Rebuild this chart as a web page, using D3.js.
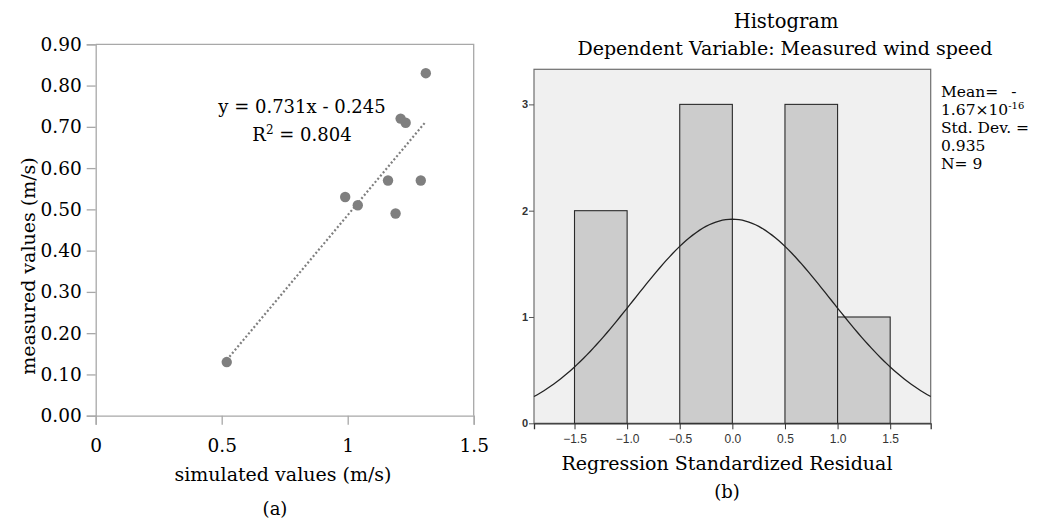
<!DOCTYPE html>
<html>
<head>
<meta charset="utf-8">
<script src="https://cdn.jsdelivr.net/npm/d3@7/dist/d3.min.js"></script>
<style>
	html, body { margin:0; padding:0; background:#fff; }
	svg { display:block; }
	.serif { font-family:"DejaVu Serif", "Liberation Serif", serif; fill:#000; }
	.sans { font-family:"Liberation Sans", "DejaVu Sans", sans-serif; fill:#333; }
</style>
</head>
<body>
<div id="chart"></div>
<script>
// (a) scatter: simulated vs measured wind speed
var simulated = [0.52, 0.99, 1.04, 1.16, 1.19, 1.21, 1.23, 1.29, 1.31];
var measured  = [0.13, 0.53, 0.51, 0.57, 0.49, 0.72, 0.71, 0.57, 0.83];
var xTicksA = [0, 0.5, 1, 1.5];
var yTicksA = [0, 0.1, 0.2, 0.3, 0.4, 0.5, 0.6, 0.7, 0.8, 0.9];
var fitSlope = 0.731, fitIntercept = -0.245, fitR2 = 0.804;

// (b) histogram of standardized residuals
var binEdges = [-1.5, -1.0, -0.5, 0.0, 0.5, 1.0, 1.5];
var binCounts = [2, 0, 3, 0, 3, 1];
var xTicksB = [-1.5, -1.0, -0.5, 0.0, 0.5, 1.0, 1.5];
var yTicksB = [0, 1, 2, 3];
var resMean = 0, resSd = 0.935, resN = 9;

(function (){
	var svg = d3.select("#chart").append("svg")
				.attr("width",1043)
				.attr("height",521);

	// ---------- panel (a) ----------
	var xa = d3.scaleLinear().domain([0,1.5]).range([95.7,473.7]);
	var ya = d3.scaleLinear().domain([0,0.9]).range([415.7,44.3]);
	var axisCol = "#a8a8a8";

	var ga = svg.append("g");

	// frame top/right
	ga.append("path")
	  .attr("d","M"+xa(0)+","+ya(0.9)+"H"+xa(1.5)+"V"+ya(0))
	  .attr("fill","none")
	  .attr("stroke",axisCol)
	  .attr("stroke-width",1.3);

	var yAxisA = d3.axisLeft(ya).tickValues(yTicksA).tickSize(9).tickFormat(d3.format(".2f"));
	ga.append("g")
	  .attr("transform","translate("+xa(0)+",0)")
	  .call(yAxisA)
	  .call(function(g){
	  		g.selectAll("path,line").attr("stroke",axisCol).attr("stroke-width",1.3);
	  		g.selectAll("text").attr("class","serif").attr("font-size",18.5).attr("x",-14).attr("fill","#000");
	  });

	var xAxisA = d3.axisBottom(xa).tickValues(xTicksA).tickSize(9).tickFormat(d3.format(""));
	ga.append("g")
	  .attr("transform","translate(0,"+ya(0)+")")
	  .call(xAxisA)
	  .call(function(g){
	  		g.selectAll("path,line").attr("stroke",axisCol).attr("stroke-width",1.3);
	  		g.selectAll("text").attr("class","serif").attr("font-size",18.5).attr("y",23).attr("fill","#000");
	  });
	svg.selectAll("g").attr("font-family",null);

	// trendline over the range of the data
	var xMin = d3.min(simulated), xMax = d3.max(simulated);
	ga.append("line")
	  .attr("x1",xa(xMin))
	  .attr("y1",ya(fitSlope*xMin+fitIntercept))
	  .attr("x2",xa(xMax))
	  .attr("y2",ya(fitSlope*xMax+fitIntercept))
	  .attr("stroke","#7f7f7f")
	  .attr("stroke-width",2.2)
	  .attr("stroke-dasharray","2,2.2");

	ga.selectAll("circle.pt")
	  .data(d3.range(simulated.length))
	  .enter()
	  .append("circle")
	  .attr("class","pt")
	  .attr("cx",function(i){return xa(simulated[i]);})
	  .attr("cy",function(i){return ya(measured[i]);})
	  .attr("r",5.2)
	  .attr("fill","#7f7f7f");

	ga.append("text")
	  .attr("class","serif")
	  .attr("x",302).attr("y",113)
	  .attr("text-anchor","middle")
	  .attr("font-size",18)
	  .text("y = "+fitSlope+"x - "+Math.abs(fitIntercept));

	var r2 = ga.append("text")
	  .attr("class","serif")
	  .attr("x",302).attr("y",141)
	  .attr("text-anchor","middle")
	  .attr("font-size",18);
	r2.append("tspan").text("R");
	r2.append("tspan").attr("font-size",12).attr("dy",-7).text("2");
	r2.append("tspan").attr("dy",7).text(" = "+fitR2);

	ga.append("text")
	  .attr("class","serif")
	  .attr("transform","translate(35,266) rotate(-90)")
	  .attr("text-anchor","middle")
	  .attr("font-size",19)
	  .text("measured values (m/s)");

	ga.append("text")
	  .attr("class","serif")
	  .attr("x",283).attr("y",481)
	  .attr("text-anchor","middle")
	  .attr("font-size",19)
	  .text("simulated values (m/s)");

	ga.append("text")
	  .attr("class","serif")
	  .attr("x",275).attr("y",515)
	  .attr("text-anchor","middle")
	  .attr("font-size",18)
	  .text("(a)");

	// ---------- panel (b) ----------
	var xb = d3.scaleLinear().domain([-1.885,1.885]).range([534,930.7]);
	var yb = d3.scaleLinear().domain([0,3.33]).range([423.3,69.3]);
	var gb = svg.append("g");

	gb.append("rect")
	  .attr("x",xb(-1.885)).attr("y",yb(3.33))
	  .attr("width",xb(1.885)-xb(-1.885))
	  .attr("height",yb(0)-yb(3.33))
	  .attr("fill","#f0f0f0")
	  .attr("stroke","#6e6e6e")
	  .attr("stroke-width",1.2);

	gb.selectAll("rect.bar")
	  .data(d3.range(binCounts.length).filter(function(i){return binCounts[i]>0;}))
	  .enter()
	  .append("rect")
	  .attr("class","bar")
	  .attr("x",function(i){return xb(binEdges[i]);})
	  .attr("y",function(i){return yb(binCounts[i]);})
	  .attr("width",function(i){return xb(binEdges[i+1])-xb(binEdges[i]);})
	  .attr("height",function(i){return yb(0)-yb(binCounts[i]);})
	  .attr("fill","#cccccc")
	  .attr("stroke","#2a2a2a")
	  .attr("stroke-width",1.1);

	// normal curve scaled to counts (N * bin width * density)
	var binW = binEdges[1]-binEdges[0];
	var normal = function(x){
		return resN*binW*Math.exp(-0.5*Math.pow((x-resMean)/resSd,2))/(resSd*Math.sqrt(2*Math.PI));
	};
	var curveX = d3.scaleLinear().domain([0,120]).range(xb.domain());
	gb.append("path")
	  .datum(d3.range(121).map(function(k){ return curveX(k); }))
	  .attr("d",d3.line().x(function(x){return xb(x);}).y(function(x){return yb(normal(x));}))
	  .attr("fill","none")
	  .attr("stroke","#222")
	  .attr("stroke-width",1.3);

	var yAxisB = d3.axisLeft(yb).tickValues(yTicksB).tickSize(5).tickFormat(d3.format("d"));
	gb.append("g")
	  .attr("transform","translate("+xb(-1.885)+",0)")
	  .call(yAxisB)
	  .call(function(g){
	  		g.select(".domain").remove();
	  		g.selectAll("line").attr("stroke","#555");
	  		g.selectAll("text").attr("class","sans").attr("font-size",11).attr("font-weight","bold").attr("fill","#555").attr("x",-6);
	  });

	var xAxisB = d3.axisBottom(xb).tickValues(xTicksB).tickSize(6).tickFormat(d3.format(".1f"));
	gb.append("g")
	  .attr("transform","translate(0,"+yb(0)+")")
	  .call(xAxisB)
	  .call(function(g){
	  		g.select(".domain").attr("stroke","#333").attr("stroke-width",1.3);
	  		g.selectAll("line").attr("stroke","#333");
	  		g.selectAll("text").attr("class","sans").attr("font-size",12).attr("fill","#444").attr("y",11);
	  });
	svg.selectAll("g").attr("font-family",null);

	gb.append("text")
	  .attr("class","serif")
	  .attr("x",786).attr("y",28)
	  .attr("text-anchor","middle")
	  .attr("font-size",19.5)
	  .text("Histogram");

	gb.append("text")
	  .attr("class","serif")
	  .attr("x",785).attr("y",55)
	  .attr("text-anchor","middle")
	  .attr("font-size",19)
	  .text("Dependent Variable: Measured wind speed");

	gb.append("text")
	  .attr("class","serif")
	  .attr("x",727).attr("y",470)
	  .attr("text-anchor","middle")
	  .attr("font-size",19)
	  .text("Regression Standardized Residual");

	gb.append("text")
	  .attr("class","serif")
	  .attr("x",727).attr("y",498)
	  .attr("text-anchor","middle")
	  .attr("font-size",18)
	  .text("(b)");

	// stats box text
	var statLines = ["Mean=", "1.67\u00d710", "Std. Dev. =", d3.format(".3f")(resSd), "N= "+resN];
	var st = gb.append("g");
	statLines.forEach(function(s,i){
		var t = st.append("text")
				  .attr("class","serif")
				  .attr("font-size",15.5)
				  .attr("x",941)
				  .attr("y",97+i*18)
				  .text(s);
		if(i===0){
			t.append("tspan").attr("dx",13).text("-");
		}
		if(i===1){
			t.append("tspan").attr("font-size",10).attr("dy",-6).text("-16");
		}
	});
})();
</script>
</body>
</html>
